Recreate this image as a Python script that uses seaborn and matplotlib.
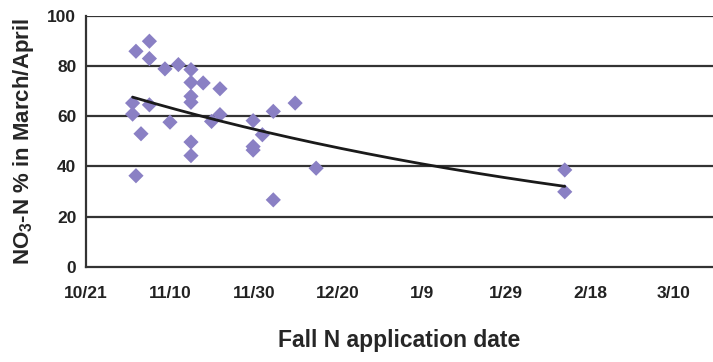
import matplotlib
matplotlib.use("Agg")
import matplotlib.pyplot as plt
import numpy as np
import pandas as pd
import seaborn as sns

# days after Oct 21 and NO3-N % remaining in March/April
days = [11.9, 15.1, 15.1, 18.8, 22.0, 25.0, 25.0, 25.0, 25.0, 27.9, 31.9,
        11.1, 11.1, 15.1, 20.0, 13.1, 25.0, 25.0, 11.9, 29.9, 31.9,
        39.8, 39.8, 39.8, 42.0, 44.6, 49.8, 54.8, 44.6, 114.0, 114.0]
no3 = [85.8, 89.8, 82.9, 78.8, 80.5, 78.5, 73.4, 67.9, 65.5, 73.2, 70.9,
       65.2, 60.8, 64.5, 57.6, 53.0, 49.7, 44.3, 36.3, 57.9, 60.6,
       58.2, 47.9, 46.5, 52.6, 61.9, 65.2, 39.3, 26.7, 38.6, 29.9]

tick_days = [0, 20, 40, 60, 80, 100, 120, 140]
tick_labels = ["10/21", "11/10", "11/30", "12/20", "1/9", "1/29", "2/18", "3/10"]

df = pd.DataFrame({"day": days, "no3": no3})

# exponential trend line fitted to the points
b, log_a = np.polyfit(df["day"], np.log(df["no3"]), 1)
trend_x = np.linspace(df["day"].min(), df["day"].max(), 200)
trend = pd.DataFrame({"day": trend_x, "no3": np.exp(log_a) * np.exp(b * trend_x)})

sns.set_theme(style="white")
plt.rcParams["font.family"] = ["Liberation Sans Narrow", "Liberation Sans", "DejaVu Sans"]
plt.rcParams["font.weight"] = "bold"
plt.rcParams["mathtext.fontset"] = "custom"
plt.rcParams["mathtext.bf"] = "Liberation Sans:bold"

fig = plt.figure(figsize=(7.13, 3.62), dpi=100)
ax = fig.add_axes([0.1206, 0.2624, 0.8794, 0.6946])

for yv in [20, 40, 60, 80, 100]:
    ax.axhline(yv, color="#333333", lw=1.6, zorder=1)

sns.scatterplot(data=df, x="day", y="no3", marker="D", s=60, color="#8a80c4",
                edgecolor="none", ax=ax, zorder=3)
sns.lineplot(data=trend, x="day", y="no3", color="#1a1a1a", lw=2, ax=ax, zorder=4)

ax.set_xlim(0, 149.3)
ax.set_ylim(0, 100)
ax.set_xticks(tick_days)
ax.set_xticklabels(tick_labels)
ax.set_yticks([0, 20, 40, 60, 80, 100])
ax.tick_params(axis="both", labelsize=12.5, colors="#222222", length=6, width=1.2,
               direction="inout", pad=4)
ax.tick_params(axis="x", direction="out", length=8, pad=6)
for s in ["top", "right"]:
    ax.spines[s].set_visible(False)
for s in ["left", "bottom"]:
    ax.spines[s].set_color("#333333")
    ax.spines[s].set_linewidth(1.6)

ax.set_xlabel("Fall N application date", fontsize=16.5, fontweight="bold", labelpad=20)
ax.set_ylabel(r"NO$\mathbf{_3}$-N % in March/April", fontsize=16, fontweight="bold",
              labelpad=8)

fig.savefig("out.png", dpi=100)
